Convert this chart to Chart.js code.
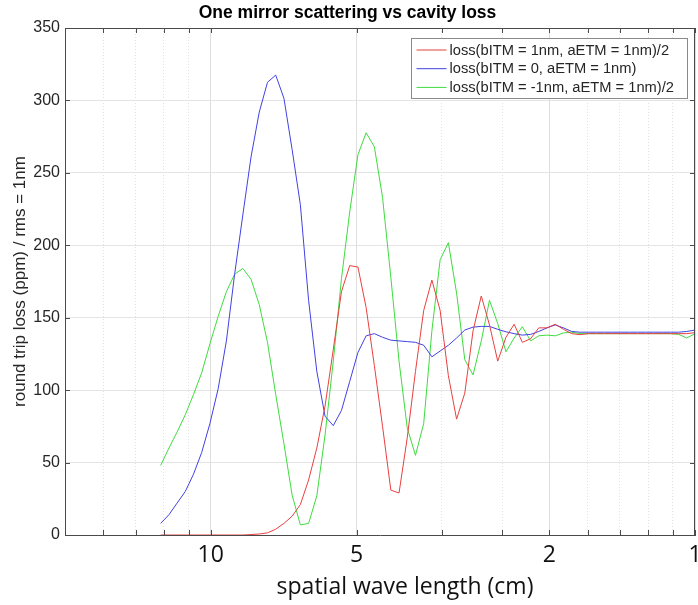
<!DOCTYPE html>
<html>
<head>
<meta charset="utf-8">
<title>One mirror scattering vs cavity loss</title>
<script src="https://cdn.jsdelivr.net/npm/chart.js@4.4.1/dist/chart.umd.min.js"></script>
<style>
  html, body { margin: 0; padding: 0; background: #fff; }
  #wrap { width: 698px; height: 605px; }
</style>
</head>
<body>
<div id="wrap"><canvas id="lossChart" width="698" height="605"></canvas></div>
<script>
// Values (x = spatial wave length in cm)
const wavelengthCm = [
  12.69, 12.20, 11.74, 11.29, 10.855, 10.44, 10.04, 9.654, 9.284, 8.928,
  8.586, 8.257, 7.940, 7.636, 7.343, 7.062, 6.791, 6.531, 6.280, 6.040,
  5.808, 5.585, 5.371, 5.165, 4.967, 4.777, 4.594, 4.418, 4.248, 4.085,
  3.929, 3.778, 3.633, 3.494, 3.360, 3.231, 3.107, 2.988, 2.873, 2.763,
  2.657, 2.555, 2.457, 2.363, 2.273, 2.185, 2.102, 2.021, 1.944, 1.869,
  1.797, 1.728, 1.662, 1.598, 1.537, 1.478, 1.421, 1.367, 1.315, 1.264,
  1.216, 1.169, 1.124, 1.081, 1.040, 1.000
];

// loss(bITM = 1nm, aETM = 1nm)/2
const lossPlus = [
  0, 0, 0, 0, 0, 0, 0, 0, 0, 0,
  0, 0.3, 0.7, 1.5, 4, 8, 13, 21, 38, 60,
  89, 128, 168, 186, 185, 157, 117, 75, 31, 29,
  67, 113, 155, 176, 155, 110, 80, 98, 141, 165,
  145, 120, 136.5, 145.5, 133, 135.5, 143, 143, 145.5, 142,
  139, 138.3, 139, 139, 139, 139, 139, 139, 139, 139,
  139, 139, 139, 139, 139, 139.7
];

// loss(bITM = 0, aETM = 1nm)
const lossZero = [
  8, 14, 22, 30, 42, 57, 77, 101, 134, 180,
  221, 261, 292, 312.5, 317.5, 301.5, 266, 228, 162, 113,
  82, 75.5, 86, 106, 126, 137.5, 139, 136.5, 134.5, 134,
  133.5, 133, 131, 123, 127, 131, 136, 141.5, 143.5, 144,
  144, 142, 140.3, 139, 138, 138.5, 140.5, 143, 145, 143,
  140.5, 140, 140, 140, 140, 140, 140, 140, 140, 140,
  140, 140, 140, 140, 140.5, 141.5
];

// loss(bITM = -1nm, aETM = 1nm)/2
const lossMinus = [
  48, 60, 71, 83, 97, 112, 132, 151, 168, 180,
  184, 176.5, 159, 133, 97, 63, 27.5, 7, 8, 27,
  69, 120, 177, 223, 262.5, 277.7, 268, 233, 178, 120,
  74, 55, 77, 141, 190, 201.8, 167, 121, 110.5, 134,
  162, 146, 126.5, 136, 143.8, 134, 137.5, 138, 137.5, 139.5,
  140, 139, 139, 139, 139, 139, 139, 139, 139, 139,
  139, 139, 139, 138.5, 136, 139
];

const seriesLabels = [
  'loss(bITM = 1nm, aETM = 1nm)/2',
  'loss(bITM = 0, aETM = 1nm)',
  'loss(bITM = -1nm, aETM = 1nm)/2'
];
const seriesColors = ['#e8403f', '#4141e4', '#3ddc3d'];

// axis ticks: labelled wave lengths and the unlabelled log minor ticks (in 1/cm)
const xTickWavelengths = [10, 5, 2, 1];
const xTickLabels = ['10', '5', '2', '1'];
const xMinorFreq = [0.05, 0.06, 0.07, 0.08, 0.09, 0.3, 0.4, 0.6, 0.7, 0.8, 0.9];
const yTicks = [0, 50, 100, 150, 200, 250, 300, 350];

const axisColor = '#4a4a4a';
const textColor = '#262626';
const sansFont = "'Liberation Sans', Arial, Helvetica, sans-serif";
const humanistFont = "'Open Sans', 'Noto Sans', sans-serif";

// the axis is log of spatial frequency, labelled with wave length
function majorIndex(v) {
    return xTickWavelengths.findIndex(w => Math.abs(1 / w - v) < 1e-9);
}

function toPoints(values) {
    return values.map((v, i) => ({ x: 1 / wavelengthCm[i], y: v }));
}

// inward ticks, closed box, legend and x label like the original figure
const matlabFrame = {
    id: 'matlabFrame',
    afterDraw(chart) {
        const { ctx, chartArea: a, scales: { x, y } } = chart;
        ctx.save();
        ctx.strokeStyle = axisColor;
        ctx.lineWidth = 1;
        ctx.beginPath();
        ctx.moveTo(a.left, a.top + 0.5);
        ctx.lineTo(a.right, a.top + 0.5);
        ctx.moveTo(a.right - 0.5, a.top);
        ctx.lineTo(a.right - 0.5, a.bottom);
        x.ticks.forEach(t => {
            const px = Math.round(x.getPixelForValue(t.value)) + 0.5;
            ctx.moveTo(px, a.bottom);
            ctx.lineTo(px, a.bottom - 5);
            ctx.moveTo(px, a.top);
            ctx.lineTo(px, a.top + 5);
        });
        y.ticks.forEach(t => {
            const py = Math.round(y.getPixelForValue(t.value)) + 0.5;
            ctx.moveTo(a.left, py);
            ctx.lineTo(a.left + 5, py);
            ctx.moveTo(a.right, py);
            ctx.lineTo(a.right - 5, py);
        });
        ctx.stroke();

        // legend box
        const bx = 411.5, by = 38.5, bw = 276, bh = 60;
        ctx.fillStyle = '#fff';
        ctx.fillRect(bx, by, bw, bh);
        ctx.strokeStyle = '#8a8a8a';
        ctx.strokeRect(bx, by, bw, bh);
        ctx.font = '14.7px ' + sansFont;
        ctx.textBaseline = 'middle';
        ctx.textAlign = 'left';
        chart.data.datasets.forEach((ds, i) => {
            const ly = by + 11.5 + i * 18.7;
            ctx.strokeStyle = ds.borderColor;
            ctx.beginPath();
            ctx.moveTo(bx + 5, ly);
            ctx.lineTo(bx + 35, ly);
            ctx.stroke();
            ctx.fillStyle = textColor;
            ctx.fillText(ds.label, bx + 38, ly + 0.5);
        });

        // x axis label
        ctx.font = '23px ' + humanistFont;
        ctx.fillStyle = '#111';
        ctx.textAlign = 'center';
        ctx.textBaseline = 'alphabetic';
        ctx.fillText('spatial wave length (cm)', 405, 594);
        ctx.restore();
    }
};

const ctx = document.getElementById('lossChart').getContext('2d');
new Chart(ctx, {
    type: 'line',
    data: {
        datasets: [lossPlus, lossZero, lossMinus].map((vals, i) => ({
            label: seriesLabels[i],
            data: toPoints(vals),
            borderColor: seriesColors[i],
            borderWidth: 1,
            pointRadius: 0,
            tension: 0,
            fill: false
        }))
    },
    options: {
        responsive: false,
        animation: false,
        events: [],
        layout: { padding: { left: 0, right: 3, top: 0, bottom: 0 } },
        plugins: {
            legend: { display: false },
            tooltip: { enabled: false },
            title: {
                display: true,
                text: 'One mirror scattering vs cavity loss',
                color: '#000',
                font: { family: sansFont, size: 17.5, weight: 'bold', lineHeight: 1.2 },
                padding: { top: 3, bottom: 4 }
            }
        },
        scales: {
            x: {
                type: 'logarithmic',
                min: 0.05,
                max: 1,
                afterBuildTicks: scale => {
                    const vals = xTickWavelengths.map(w => 1 / w).concat(xMinorFreq);
                    vals.sort((a, b) => a - b);
                    scale.ticks = vals.map(v => ({ value: v, major: majorIndex(v) >= 0 }));
                },
                afterFit: scale => {
                    scale.height = 70;
                    scale.paddingLeft = 0;
                    scale.paddingRight = 0;
                },
                ticks: {
                    autoSkip: false,
                    maxRotation: 0,
                    minRotation: 0,
                    padding: 7,
                    color: '#111',
                    font: { family: humanistFont, size: 23 },
                    callback: value => {
                        const k = majorIndex(value);
                        return k >= 0 ? xTickLabels[k] : '';
                    }
                },
                grid: {
                    drawTicks: false,
                    lineWidth: 1,
                    color: c => (c.tick && majorIndex(c.tick.value) >= 0) ? '#dedede' : '#e2e2e2'
                },
                border: {
                    color: axisColor,
                    width: 1,
                    dash: c => (c.tick && majorIndex(c.tick.value) < 0) ? [1, 2] : []
                }
            },
            y: {
                type: 'linear',
                min: 0,
                max: 350,
                afterBuildTicks: scale => {
                    scale.ticks = yTicks.map(v => ({ value: v }));
                },
                afterFit: scale => {
                    scale.width = 65;
                    scale.paddingTop = 0;
                    scale.paddingBottom = 0;
                },
                ticks: {
                    padding: 5,
                    color: textColor,
                    font: { family: sansFont, size: 16 }
                },
                grid: {
                    drawTicks: false,
                    lineWidth: 1,
                    color: '#e4e4e4'
                },
                border: { color: axisColor, width: 1 },
                title: {
                    display: true,
                    text: 'round trip loss (ppm) / rms = 1nm',
                    color: textColor,
                    font: { family: sansFont, size: 17 },
                    padding: { top: 10, bottom: 0 }
                }
            }
        }
    },
    plugins: [matlabFrame]
});
</script>
</body>
</html>
